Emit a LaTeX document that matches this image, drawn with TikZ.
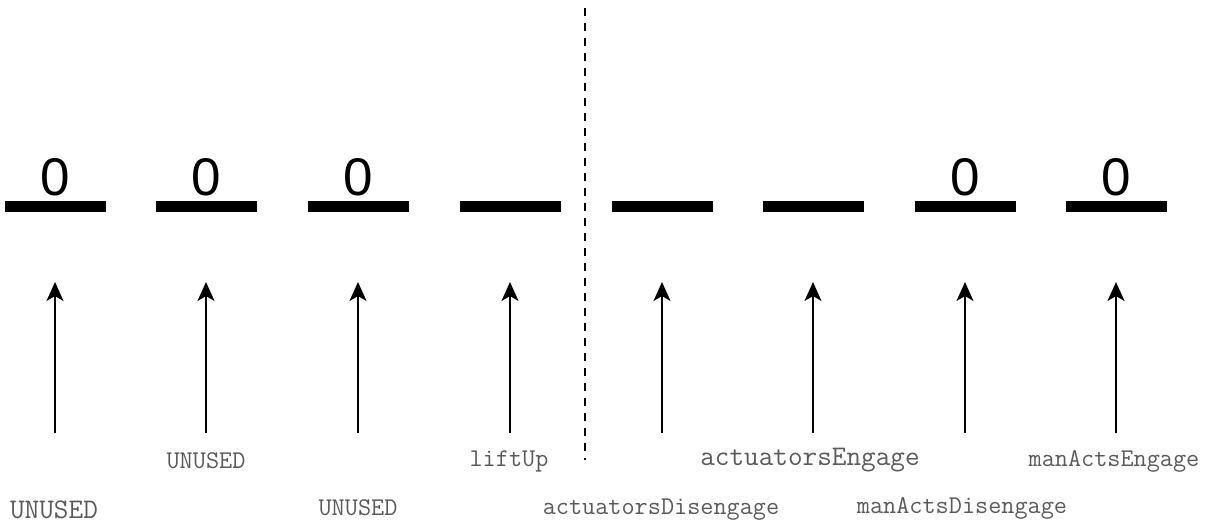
\documentclass[tikz,border=0pt]{standalone}
\usepackage{fontspec}
\setmainfont{Liberation Sans}
\usetikzlibrary{arrows.meta}
\definecolor{lblgray}{HTML}{5A5A5A}
\begin{document}
\begin{tikzpicture}[x=1pt,y=-1pt,
  bar/.style={fill=black,draw=none,minimum width=101pt,minimum height=11pt,inner sep=0pt,rectangle},
  zero/.style={font=\fontsize{53}{53}\selectfont,inner sep=0pt,anchor=base},
  lblsmall/.style={font=\ttfamily\fontsize{25.5}{25.5}\selectfont,text=lblgray,inner sep=0pt},
  lblbig/.style={font=\ttfamily\fontsize{28.4}{28.4}\selectfont,text=lblgray,inner sep=0pt},
  arr/.style={line width=2pt,-{Stealth[length=19pt,width=17pt,inset=5pt]}},
  sep/.style={line width=1.6pt,dash pattern=on 8pt off 7pt}]
\useasboundingbox (0,0) rectangle (1211,523);
% bars
\foreach \i/\x in {1/55,2/206,3/358,4/510,5/662,6/813,7/965,8/1116}{
  \node[bar] (bar\i) at (\x,206.5) {};
  \coordinate (tip\i) at (\x,282);
  \coordinate (bot\i) at (\x,433);
  \draw[arr] (bot\i) -- (tip\i);
}
% zeros
\foreach \i in {1,2,3,7,8}{
  \node[zero] (z\i) at ([yshift=5pt]bar\i.north) {0};
}
% separator
\coordinate (sepT) at (585,8);
\coordinate (sepB) at (585,460);
\draw[sep] (sepT) -- (sepB);
% labels
\node[lblbig]   (l1) at (54,510) {UNUSED};
\node[lblsmall] (l2) at (206,461) {UNUSED};
\node[lblsmall] (l3) at (358,508) {UNUSED};
\node[lblsmall] (l4) at (509,461) {liftUp};
\node[lblsmall] (l5) at (661,510) {actuatorsDisengage};
\node[lblbig]   (l6) at (810,460) {actuatorsEngage};
\node[lblsmall] (l7) at (962,508) {manActsDisengage};
\node[lblsmall] (l8) at (1114,461) {manActsEngage};
\end{tikzpicture}
\end{document}
